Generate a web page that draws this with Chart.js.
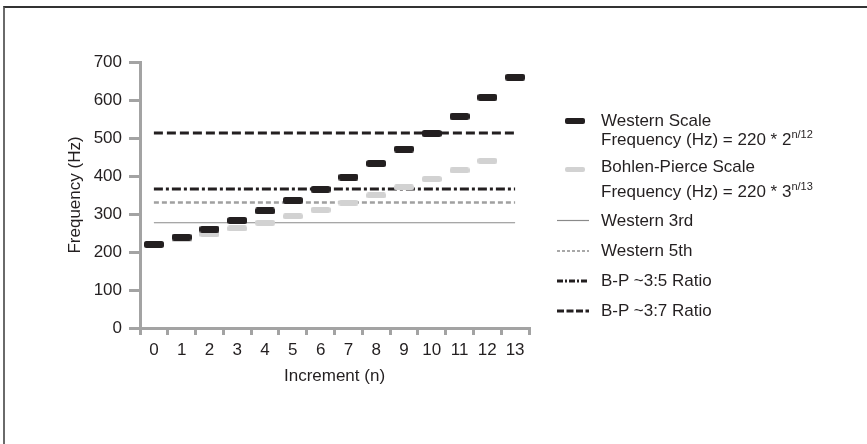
<!DOCTYPE html>
<html>
<head>
<meta charset="utf-8">
<script src="https://cdn.jsdelivr.net/npm/chart.js@4"></script>
<style>
  html, body { margin: 0; padding: 0; background: #fff; }
  #wrap { position: relative; width: 867px; height: 444px; overflow: hidden; font-family: "Liberation Sans", Arial, sans-serif; color: #231f20; }
  #frame { position: absolute; left: 3px; top: 6px; right: -5px; bottom: -5px; border-top: 2px solid #333; border-left: 2px solid #6a6a6a; }
  canvas { position: absolute; left: 0; top: 0; }
  .leg { position: absolute; font-size: 17px; line-height: 20px; white-space: nowrap; }
  .leg sup { font-size: 11px; position: relative; top: -1px; vertical-align: top; line-height: 11px; }
  .sw { position: absolute; }
</style>
</head>
<body>
<div id="wrap">
  <div id="frame"></div>
  <canvas id="c" width="867" height="444"></canvas>
  <!-- legend -->
  <div class="sw" style="left:565px;top:118px;width:20px;height:6px;background:#231f20;border-radius:2px;"></div>
  <div class="leg" style="left:601px;top:111px;">Western Scale</div>
  <div class="leg" style="left:601px;top:130px;">Frequency (Hz) = 220 * 2<sup>n/12</sup></div>
  <div class="sw" style="left:565px;top:167px;width:20px;height:5px;background:#d2d2d2;border-radius:2px;"></div>
  <div class="leg" style="left:601px;top:157px;">Bohlen-Pierce Scale</div>
  <div class="leg" style="left:601px;top:182px;">Frequency (Hz) = 220 * 3<sup>n/13</sup></div>
  <svg class="sw" style="left:555px;top:210px;" width="36" height="110">
    <line x1="2" y1="10.5" x2="34" y2="10.5" stroke="#8a8a8a" stroke-width="1.2"/>
    <line x1="2" y1="41" x2="34" y2="41" stroke="#a8a8a8" stroke-width="2" stroke-dasharray="3 2"/>
    <line x1="2" y1="71" x2="34" y2="71" stroke="#231f20" stroke-width="3" stroke-dasharray="6 2 2 2"/>
    <line x1="2" y1="101" x2="34" y2="101" stroke="#231f20" stroke-width="3" stroke-dasharray="7 2.5"/>
  </svg>
  <div class="leg" style="left:601px;top:211px;">Western 3rd</div>
  <div class="leg" style="left:601px;top:241px;">Western 5th</div>
  <div class="leg" style="left:601px;top:271px;">B-P ~3:5 Ratio</div>
  <div class="leg" style="left:601px;top:301px;">B-P ~3:7 Ratio</div>
</div>
<script>
const increments = ['0','1','2','3','4','5','6','7','8','9','10','11','12','13'];
const westernScale = [220, 239, 260, 283, 308, 336, 365, 397, 433, 471, 512, 557, 607, 660];
const bohlenPierceScale = [220, 233, 247, 262, 277, 294, 311, 330, 349, 370, 392, 415, 440];
const western3rd = 277;
const western5th = 330;
const bp35Ratio = 366;
const bp37Ratio = 513;
const yTicks = [0, 100, 200, 300, 400, 500, 600, 700];

const FONT = "'Liberation Sans', Arial, sans-serif";
const INK = '#231f20';
const AXIS = '#a3a3a3';

function barImage(w, h, r, color) {
  const cv = document.createElement('canvas');
  cv.width = w; cv.height = h;
  const g = cv.getContext('2d');
  g.fillStyle = color;
  g.beginPath();
  g.roundRect(0, 0, w, h, r);
  g.fill();
  return cv;
}
const blackBar = barImage(20, 7, 2.5, INK);
const grayBar = barImage(20, 6, 2.5, '#d2d2d2');

function hLine(v) {
  return [{x: increments[0], y: v}, {x: increments[increments.length - 1], y: v}];
}

new Chart(document.getElementById('c'), {
  type: 'line',
  data: {
    labels: increments,
    datasets: [
      { label: 'B-P ~3:7 Ratio', data: hLine(bp37Ratio), borderColor: INK, borderWidth: 3, borderDash: [9, 4], pointRadius: 0, order: 3 },
      { label: 'Western Scale', data: westernScale, showLine: false, pointStyle: blackBar, pointRadius: 10, order: 1 },
      { label: 'Bohlen-Pierce Scale', data: bohlenPierceScale, showLine: false, pointStyle: grayBar, pointRadius: 10, order: 2 },
      { label: 'Western 3rd', data: hLine(western3rd), borderColor: '#8a8a8a', borderWidth: 1.2, pointRadius: 0, order: 6 },
      { label: 'Western 5th', data: hLine(western5th), borderColor: '#a0a0a0', borderWidth: 2.5, borderDash: [5, 3], pointRadius: 0, order: 5 },
      { label: 'B-P ~3:5 Ratio', data: hLine(bp35Ratio), borderColor: INK, borderWidth: 3, borderDash: [9, 3, 3, 3], pointRadius: 0, order: 4 }
    ]
  },
  options: {
    responsive: false,
    animation: false,
    events: [],
    layout: { padding: { left: 61, top: 62, right: 338, bottom: 53 } },
    plugins: { legend: { display: false }, tooltip: { enabled: false } },
    scales: {
      x: {
        type: 'category',
        offset: true,
        grid: { offset: true, drawOnChartArea: false, drawTicks: true, tickLength: 7, color: AXIS, lineWidth: 3 },
        border: { color: AXIS, width: 3 },
        ticks: { color: INK, font: { family: FONT, size: 17 }, padding: 5, maxRotation: 0, autoSkip: false },
        title: { display: true, text: 'Increment (n)', color: INK, font: { family: FONT, size: 17 }, padding: 4 },
        afterFit: s => { s.height = 63; }
      },
      y: {
        min: 0, max: 700,
        afterBuildTicks: s => { s.ticks = yTicks.map(v => ({ value: v })); },
        grid: { drawOnChartArea: false, drawTicks: true, tickLength: 11, color: AXIS, lineWidth: 3 },
        border: { color: AXIS, width: 3 },
        ticks: { color: INK, font: { family: FONT, size: 17 }, padding: 7 },
        title: { display: true, text: 'Frequency (Hz)', color: INK, font: { family: FONT, size: 17 }, padding: 4 },
        afterFit: s => { s.width = 79; }
      }
    }
  }
});
</script>
</body>
</html>
